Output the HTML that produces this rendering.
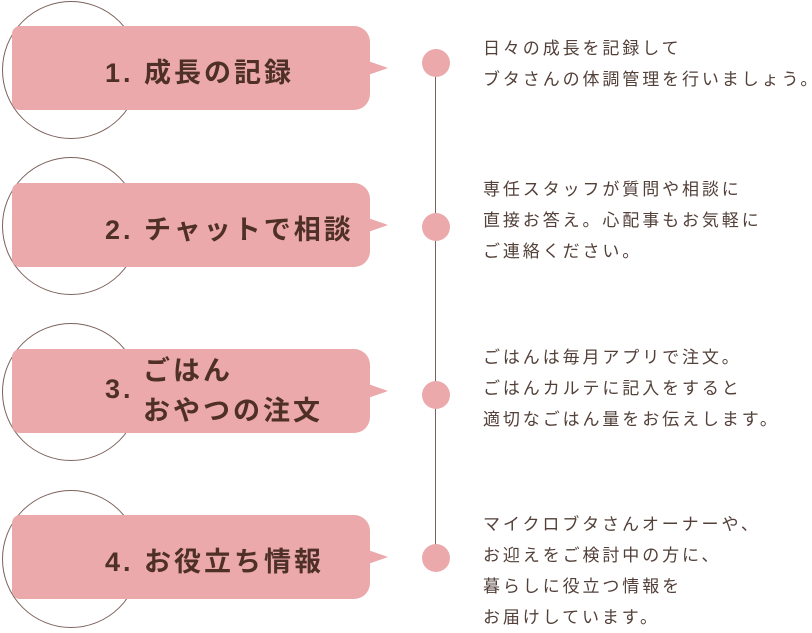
<!DOCTYPE html>
<html><head><meta charset="utf-8"><style>
body{margin:0;width:812px;height:630px;background:#fff;position:relative;overflow:hidden;font-family:"Liberation Sans","Noto Sans CJK JP",sans-serif;color:#4e3730}
.c{position:absolute;left:2px;width:136px;height:136px;border:1.2px solid #7d625c;border-radius:50%;}
.b{position:absolute;left:12px;width:358px;height:84px;background:#eba9ab;border-radius:8px 16px 16px 8px;}
.b:after{content:"";position:absolute;right:-18px;top:35px;border-left:20px solid #eba9ab;border-top:7px solid transparent;border-bottom:7px solid transparent;}
.t{position:absolute;font-size:27px;font-weight:bold;color:#4e3028;letter-spacing:3px;white-space:nowrap}
.d{position:absolute;left:422px;width:28px;height:28px;border-radius:50%;background:#eba9ab}
.line{position:absolute;left:435px;top:70px;width:1.3px;height:492px;background:#7d625c}
.r{position:absolute;left:483px;font-size:17px;line-height:31px;letter-spacing:2.9px;white-space:nowrap;color:#524039}
</style></head><body>
<div class="line"></div>
<div class="c" style="top:1px"></div><div class="b" style="top:26px"></div>
<div class="t" style="left:105px;top:51px">1. 成長の記録</div>
<div class="c" style="top:157px"></div><div class="b" style="top:183px"></div>
<div class="t" style="left:105px;top:208px">2. チャットで相談</div>
<div class="c" style="top:323px"></div><div class="b" style="top:349px"></div>
<div class="t" style="left:105px;top:374px">3.</div>
<div class="t" style="left:143px;top:351px;line-height:40px">ごはん<br>おやつの注文</div>
<div class="c" style="top:490px"></div><div class="b" style="top:515px"></div>
<div class="t" style="left:105px;top:540px">4. お役立ち情報</div>
<div class="d" style="top:49px"></div>
<div class="d" style="top:213px"></div>
<div class="d" style="top:381px"></div>
<div class="d" style="top:544px"></div>
<div class="r" style="top:33px">日々の成長を記録して<br>ブタさんの体調管理を行いましょう。</div>
<div class="r" style="top:174px">専任スタッフが質問や相談に<br>直接お答え。心配事もお気軽に<br>ご連絡ください。</div>
<div class="r" style="top:342px">ごはんは毎月アプリで注文。<br>ごはんカルテに記入をすると<br>適切なごはん量をお伝えします。</div>
<div class="r" style="top:509px">マイクロブタさんオーナーや、<br>お迎えをご検討中の方に、<br>暮らしに役立つ情報を<br>お届けしています。</div>
</body></html>
